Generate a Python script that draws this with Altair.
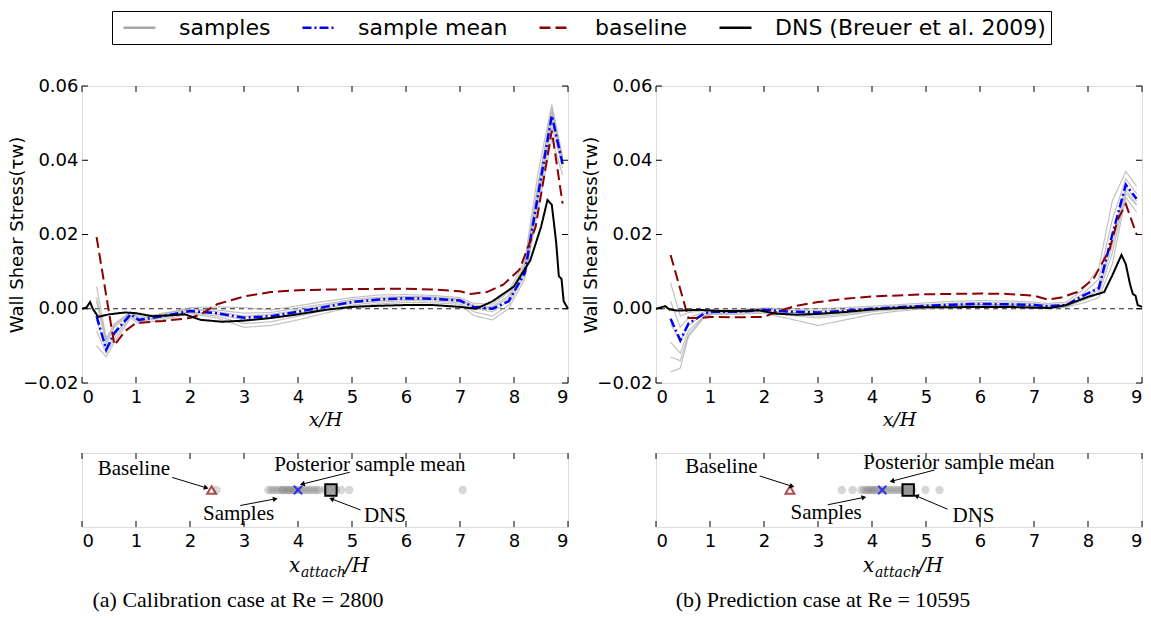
import math
import altair as alt
import pandas as pd

# ---------------- data ----------------
SERIES = ["samples", "sample mean", "baseline", "DNS (Breuer et al. 2009)"]
COLORS = ["#a8a8a8", "#0000ff", "#8b0000", "#000000"]
DASHES = [[1, 0], [9, 3, 2, 3], [11, 5], [1, 0]]

X_MODEL = [0.27, 0.45, 0.6, 0.9, 1.05, 1.5, 2.0, 2.5, 3.0, 3.5, 4.0, 4.5, 5.0,
           5.5, 6.0, 6.5, 7.0, 7.25, 7.6, 7.9, 8.2, 8.45, 8.7, 8.9]

# (a) calibration case
L_MEAN = [-0.002, -0.011, -0.0065, -0.0015, -0.003, -0.002, -0.0006, -0.0012, -0.0024,
          -0.002, -0.0008, 0.0005, 0.0018, 0.0025, 0.0028, 0.0027, 0.0022, 0.0005, 0.0,
          0.002, 0.0097, 0.031, 0.052, 0.039]
L_SAMPLES = [
    [0.006, -0.008, -0.004, -0.001, -0.002, -0.0015, 0.0003, 0.0005, 0.0003, -0.0003, 0.0008,
     0.002, 0.003, 0.0037, 0.0038, 0.0036, 0.003, 0.0015, 0.0012, 0.0045, 0.013, 0.037, 0.055, 0.041],
    [0.002, -0.0095, -0.005, -0.0012, -0.0025, -0.0018, -0.0002, -0.0003, -0.0012, -0.001, 0.0002,
     0.0013, 0.0025, 0.0031, 0.0033, 0.0032, 0.0026, 0.001, 0.0006, 0.0035, 0.012, 0.034, 0.053, 0.04],
    [-0.003, -0.011, -0.007, -0.0018, -0.0032, -0.0022, -0.0008, -0.0015, -0.003, -0.0025, -0.0012,
     0.0002, 0.0015, 0.0022, 0.0026, 0.0025, 0.002, 0.0002, -0.0008, 0.002, 0.010, 0.031, 0.051, 0.039],
    [-0.006, -0.012, -0.008, -0.002, -0.0035, -0.0025, -0.001, -0.002, -0.004, -0.0035, -0.002,
     -0.0005, 0.001, 0.0018, 0.0022, 0.0021, 0.0016, -0.0008, -0.002, 0.001, 0.009, 0.029, 0.049, 0.038],
    [-0.01, -0.013, -0.009, -0.0025, -0.004, -0.003, -0.0013, -0.0025, -0.005, -0.0045, -0.003,
     -0.0012, 0.0005, 0.0013, 0.0017, 0.0016, 0.0012, -0.0018, -0.003, 0.0, 0.008, 0.027, 0.046, 0.036],
    [0.003, -0.0085, -0.0045, -0.0008, -0.0028, -0.0012, 0.0, -0.0008, -0.002, -0.0015, -0.0004,
     0.0009, 0.0021, 0.0028, 0.0031, 0.003, 0.0024, 0.0006, 0.0003, 0.0028, 0.0115, 0.033, 0.054, 0.040],
]
L_BASE_X = [0.27, 0.6, 0.8, 1.0, 1.5, 2.0, 2.2, 2.5, 3.0, 3.5, 4.0, 5.0, 6.0, 6.5, 7.0,
            7.2, 7.5, 7.8, 8.1, 8.4, 8.55, 8.7, 8.9]
L_BASE_Y = [0.0193, -0.0098, -0.006, -0.0038, -0.0033, -0.0025, -0.0015, 0.0012, 0.0033,
            0.0045, 0.005, 0.0053, 0.0054, 0.0052, 0.0047, 0.004, 0.0045, 0.0065, 0.0105,
            0.022, 0.035, 0.048, 0.0283]
L_DNS_X = [0.0, 0.08, 0.15, 0.2, 0.3, 0.5, 0.8, 1.0, 1.3, 1.6, 1.9, 2.2, 2.6, 3.0, 3.5, 4.0,
           4.5, 5.0, 5.5, 6.0, 6.5, 7.0, 7.3, 7.6, 8.0, 8.3, 8.5, 8.62, 8.7, 8.78, 8.83,
           8.88, 8.92, 9.0]
L_DNS_Y = [0.0, 0.0003, 0.0018, 0.0, -0.0022, -0.0015, -0.001, -0.0012, -0.002, -0.0018,
           -0.0015, -0.003, -0.0035, -0.0032, -0.0025, -0.0015, -0.0003, 0.0005, 0.0008,
           0.001, 0.001, 0.0005, 0.0, 0.002, 0.006, 0.013, 0.022, 0.0293, 0.028, 0.018,
           0.0088, 0.008, 0.002, 0.0]
L_ATTACH = [2.49, 3.45, 3.5, 3.55, 3.6, 3.65, 3.7, 3.72, 3.75, 3.8, 3.82, 3.85, 3.9, 3.92,
            3.95, 4.0, 4.05, 4.1, 4.15, 4.2, 4.25, 4.3, 4.35, 4.4, 4.5, 4.6, 4.7, 4.8, 4.95, 7.05]
L_MARKS = {"baseline": 2.40, "mean": 4.0, "dns": 4.61}

# (b) prediction case
R_MEAN = [-0.0027, -0.0085, -0.004, -0.0012, -0.0008, -0.0008, -0.0003, -0.0008, -0.001,
          -0.0006, 0.0, 0.0004, 0.0008, 0.0011, 0.0013, 0.0012, 0.001, 0.0007, 0.001,
          0.0035, 0.0055, 0.02, 0.0334, 0.0296]
R_SAMPLES = [
    [0.007, -0.002, -0.001, -0.0005, -0.0003, -0.0003, 0.0002, 0.0, 0.0, 0.0003, 0.0007,
     0.0011, 0.0016, 0.002, 0.0022, 0.0021, 0.0018, 0.0014, 0.0018, 0.005, 0.011, 0.029, 0.037, 0.033],
    [0.002, -0.005, -0.0025, -0.0008, -0.0005, -0.0005, 0.0, -0.0004, -0.0005, -0.0002, 0.0003,
     0.0007, 0.0011, 0.0015, 0.0017, 0.0016, 0.0014, 0.001, 0.0013, 0.004, 0.008, 0.024, 0.035, 0.031],
    [-0.004, -0.009, -0.0045, -0.0013, -0.0009, -0.0009, -0.0004, -0.001, -0.0013, -0.0008, -0.0002,
     0.0003, 0.0007, 0.001, 0.0012, 0.0011, 0.0009, 0.0006, 0.0009, 0.003, 0.006, 0.019, 0.033, 0.029],
    [-0.009, -0.012, -0.006, -0.0018, -0.0012, -0.0012, -0.0008, -0.0018, -0.0025, -0.0018, -0.0008,
     -0.0002, 0.0003, 0.0006, 0.0008, 0.0008, 0.0006, 0.0003, 0.0006, 0.0022, 0.004, 0.015, 0.031, 0.028],
    [-0.017, -0.016, -0.0075, -0.0022, -0.0015, -0.0015, -0.0012, -0.0028, -0.0045, -0.003, -0.0015,
     -0.0006, 0.0, 0.0003, 0.0005, 0.0005, 0.0004, 0.0001, 0.0004, 0.0015, 0.003, 0.012, 0.030, 0.026],
    [-0.013, -0.014, -0.007, -0.002, -0.0013, -0.001, -0.0006, -0.0014, -0.002, -0.0014, -0.0005,
     0.0001, 0.0005, 0.0008, 0.001, 0.001, 0.0008, 0.0005, 0.0008, 0.0027, 0.005, 0.017, 0.032, 0.028],
]
R_BASE_X = [0.27, 0.6, 0.8, 1.0, 1.5, 2.0, 2.3, 2.6, 3.0, 3.5, 4.0, 5.0, 6.0, 6.5, 7.0,
            7.25, 7.5, 7.8, 8.1, 8.4, 8.55, 8.7, 8.9]
R_BASE_Y = [0.0145, -0.0025, -0.0025, -0.0022, -0.0023, -0.0022, -0.0005, 0.0008, 0.0018,
            0.0027, 0.0033, 0.0039, 0.0041, 0.004, 0.0035, 0.0025, 0.003, 0.0045, 0.008,
            0.016, 0.024, 0.0282, 0.02]
R_DNS_X = [0.0, 0.1, 0.17, 0.25, 0.4, 0.8, 1.2, 1.6, 1.9, 2.2, 2.6, 3.0, 3.5, 4.0, 4.5, 5.0,
           5.5, 6.0, 6.5, 7.0, 7.3, 7.6, 8.0, 8.3, 8.45, 8.62, 8.7, 8.78, 8.83, 8.88, 8.92, 9.0]
R_DNS_Y = [0.0, 0.0004, 0.0007, -0.0002, -0.0005, -0.0003, -0.0006, -0.0006, -0.0004, -0.0013,
           -0.0016, -0.0014, -0.0009, -0.0002, 0.0002, 0.0004, 0.0004, 0.0005, 0.0005, 0.0003,
           0.0002, 0.001, 0.0032, 0.0045, 0.009, 0.0145, 0.012, 0.0065, 0.004, 0.0035, 0.001, 0.0005]
R_ATTACH = [3.44, 3.64, 3.8, 3.85, 3.9, 3.93, 3.96, 4.0, 4.03, 4.06, 4.1, 4.15, 4.2, 4.25,
            4.3, 4.35, 4.4, 4.45, 4.5, 4.55, 4.6, 4.65, 4.7, 4.75, 4.99, 5.25]
R_MARKS = {"baseline": 2.48, "mean": 4.19, "dns": 4.67}

# annotation labels in the strips: text, text x, text y, arrow from (x, y) to (x, y)
L_ANN = [
    ("Baseline", 0.96, 0.78, 1.67, 0.67, 2.30, 0.53),
    ("Posterior sample mean", 5.33, 0.84, 4.96, 0.74, 4.08, 0.58),
    ("Samples", 2.90, 0.18, 2.93, 0.29, 3.58, 0.38),
    ("DNS", 5.61, 0.15, 5.16, 0.23, 4.62, 0.38),
]
R_ANN = [
    ("Baseline", 1.21, 0.81, 1.92, 0.69, 2.52, 0.55),
    ("Posterior sample mean", 5.61, 0.86, 5.16, 0.77, 4.37, 0.62),
    ("Samples", 3.15, 0.19, 3.18, 0.30, 3.85, 0.40),
    ("DNS", 5.88, 0.15, 5.40, 0.24, 4.82, 0.42),
]

TICKS_X = list(range(10))
TICKS_Y = [-0.02, 0.0, 0.02, 0.04, 0.06]

CAPTIONS = ["(a) Calibration case at Re = 2800", "(b) Prediction case at Re = 10595"]

# ---------------- layout constants ----------------
W, H, HS = 486, 297, 74
SANS = "DejaVu Sans"
SERIF = "Liberation Serif"

LEG = alt.Legend(
    title=None, orient="none", legendX=30, legendY=-75, direction="horizontal",
    columns=4, symbolType="M-1.6,0H1.6", symbolSize=400, symbolStrokeWidth=2.5,
    symbolOpacity=1, symbolOffset=11, labelOffset=28, columnPadding=25, padding=5,
    labelFont=SANS, labelFontSize=22, labelColor="black", labelLimit=400,
    strokeColor="black", fillColor="white",
)

XS = alt.Scale(domain=[0, 9], nice=False, zero=False)


def tick_rules(xvals, yvals, ys, h):
    layers = []
    tx = pd.DataFrame({"x": xvals})
    for y0, y1 in [(h, h - 6), (0, 6)]:
        layers.append(alt.Chart(tx).mark_rule(color="black", strokeWidth=1).encode(
            x=alt.X("x:Q", scale=XS), y=alt.value(y0), y2=alt.value(y1)))
    if yvals:
        ty = pd.DataFrame({"y": yvals})
        for x0, x1 in [(0, 6), (W, W - 6)]:
            layers.append(alt.Chart(ty).mark_rule(color="black", strokeWidth=1).encode(
                y=alt.Y("y:Q", scale=ys), x=alt.value(x0), x2=alt.value(x1)))
    return layers


def top_panel(mean, samples, bx, by, dx, dy):
    ys = alt.Scale(domain=[-0.02, 0.06], nice=False, zero=False)
    xax = alt.Axis(values=TICKS_X, ticks=False, domain=False, grid=False, labelPadding=5,
                   labelFont=SANS, labelFontSize=18, labelColor="black", title="x/H",
                   titleFont="DejaVu Serif", titleFontStyle="italic", titleFontWeight="normal",
                   titleFontSize=19, titleColor="black", titlePadding=4, format="d")
    yax = alt.Axis(values=TICKS_Y, ticks=False, domain=False, grid=False, labelPadding=4,
                   labelFont=SANS, labelFontSize=18, labelColor="black", format=".2f",
                   title="Wall Shear Stress(τw)", titleFont=SANS, titleFontSize=18,
                   titleFontWeight="normal", titleColor="black", titlePadding=-4)
    X = alt.X("x:Q", scale=XS, axis=xax)
    Y = alt.Y("y:Q", scale=ys, axis=yax)
    color = alt.Color("series:N", scale=alt.Scale(domain=SERIES, range=COLORS), legend=LEG)
    dash = alt.StrokeDash("series:N", scale=alt.Scale(domain=SERIES, range=DASHES), legend=LEG)

    rows = []
    for i, s in enumerate(samples):
        for x, y in zip(X_MODEL, s):
            rows.append({"x": x, "y": y, "sample": i, "series": SERIES[0]})
    df_s = pd.DataFrame(rows)
    df_m = pd.DataFrame({"x": X_MODEL, "y": mean, "series": SERIES[1]})
    df_b = pd.DataFrame({"x": bx, "y": by, "series": SERIES[2]})
    df_d = pd.DataFrame({"x": dx, "y": dy, "series": SERIES[3]})

    zero = alt.Chart(pd.DataFrame({"y": [0.0]})).mark_rule(
        color="#222222", strokeWidth=1, strokeDash=[5, 4]).encode(y=alt.Y("y:Q", scale=ys))
    l_s = alt.Chart(df_s).mark_line(strokeWidth=1.2, opacity=0.7).encode(
        X, Y, color=color, strokeDash=dash, detail="sample:N")
    l_m = alt.Chart(df_m).mark_line(strokeWidth=2.5).encode(X, Y, color=color, strokeDash=dash)
    l_b = alt.Chart(df_b).mark_line(strokeWidth=2).encode(X, Y, color=color, strokeDash=dash)
    l_d = alt.Chart(df_d).mark_line(strokeWidth=2).encode(X, Y, color=color, strokeDash=dash)
    return alt.layer(zero, l_s, l_m, l_b, l_d, *tick_rules(TICKS_X, TICKS_Y, ys, H)).properties(
        width=W, height=H)


def strip_panel(att, marks, ann, caption, dxcap):
    ys = alt.Scale(domain=[0, 1], nice=False, zero=False)
    xax = alt.Axis(values=TICKS_X, ticks=False, domain=False, grid=False, labelPadding=5,
                   labelFont=SANS, labelFontSize=18, labelColor="black", title=None, format="d")
    X = alt.X("x:Q", scale=XS, axis=xax)
    Y = alt.Y("y:Q", scale=ys, axis=None)
    pts = alt.Chart(pd.DataFrame({"x": att, "y": [0.5] * len(att)})).mark_circle(
        size=70, color="#7a7a7a", opacity=0.3).encode(X, Y)
    tri = alt.Chart(pd.DataFrame({"x": [marks["baseline"]], "y": [0.5]})).mark_point(
        shape="triangle-up", filled=False, color="#8b0000", strokeWidth=2, size=80).encode(X, Y)
    sq = alt.Chart(pd.DataFrame({"x": [marks["dns"]], "y": [0.5]})).mark_square(
        size=130, fill="#8a8a8a", fillOpacity=0.7, stroke="black", strokeWidth=2).encode(X, Y)
    cr = alt.Chart(pd.DataFrame({"x": [marks["mean"]], "y": [0.5]})).mark_point(
        shape="M-1,-1L1,1M-1,1L1,-1", filled=False, color="#0000ff", strokeWidth=2,
        size=70).encode(X, Y)

    txt = pd.DataFrame({"t": [a[0] for a in ann], "x": [a[1] for a in ann],
                        "y": [a[2] for a in ann]})
    arr = pd.DataFrame({"x": [a[3] for a in ann], "y": [a[4] for a in ann],
                        "x2": [a[5] for a in ann], "y2": [a[6] for a in ann]})
    arr["ang"] = [
        math.degrees(math.atan2(-(r.y2 - r.y) * HS, (r.x2 - r.x) * W / 9.0)) % 360
        for r in arr.itertuples()
    ]
    t_l = alt.Chart(txt).mark_text(font=SERIF, fontSize=21, color="black").encode(
        X, Y, text="t:N")
    a_l = alt.Chart(arr).mark_rule(color="black", strokeWidth=1).encode(
        X, Y, x2="x2:Q", y2="y2:Q")
    h_l = alt.Chart(arr).mark_point(shape="triangle-right", filled=True, color="black",
                                    size=30, opacity=1).encode(
        x=alt.X("x2:Q", scale=XS, axis=xax), y=alt.Y("y2:Q", scale=ys, axis=None),
        angle=alt.Angle("ang:Q", scale=None))

    ttl = pd.DataFrame({"t": ["x", "attach", "/H"], "px": [207, 219, 263],
                        "py": [119, 124, 119], "fs": [20, 14, 20]})
    title_layers = [
        alt.Chart(ttl.iloc[[i]]).mark_text(font="DejaVu Serif", fontStyle="italic",
                                           fontSize=int(ttl.fs[i]), align="left",
                                           baseline="alphabetic", color="black").encode(
            x=alt.value(int(ttl.px[i])), y=alt.value(int(ttl.py[i])), text="t:N")
        for i in range(3)
    ]
    return alt.layer(pts, tri, sq, cr, a_l, h_l, t_l, *title_layers,
                     *tick_rules(TICKS_X, None, ys, HS)).properties(
        width=W, height=HS,
        title=alt.TitleParams(caption, orient="bottom", anchor="middle", frame="group",
                              font=SERIF, fontSize=22, fontWeight="normal", color="black",
                              offset=10, dx=dxcap),
    )


def column(i, mean, samples, bx, by, dx, dy, att, marks, ann, dxcap):
    return alt.vconcat(
        top_panel(mean, samples, bx, by, dx, dy),
        strip_panel(att, marks, ann, CAPTIONS[i], dxcap),
        spacing=70, bounds="flush",
    )


left = column(0, L_MEAN, L_SAMPLES, L_BASE_X, L_BASE_Y, L_DNS_X, L_DNS_Y,
              L_ATTACH, L_MARKS, L_ANN, -87)
right = column(1, R_MEAN, R_SAMPLES, R_BASE_X, R_BASE_Y, R_DNS_X, R_DNS_Y,
               R_ATTACH, R_MARKS, R_ANN, -76)

chart = alt.hconcat(left, right, spacing=9).resolve_scale(
    color="shared", strokeDash="shared"
).properties(
    padding={"left": 8, "right": 1, "top": 10, "bottom": 3}
).configure_view(stroke="black", strokeWidth=1).configure(background="white")

chart.save("out.html", embed_options={"renderer": "svg", "actions": False})
